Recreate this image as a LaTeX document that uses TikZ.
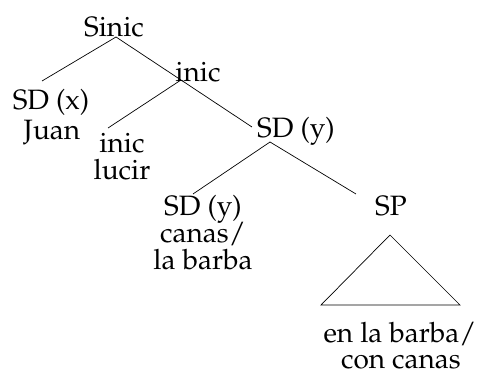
\documentclass[tikz,border=0pt]{standalone}
\usepackage[T1]{fontenc}
\usepackage{mathpazo}
\begin{document}
\begin{tikzpicture}[x=1pt,y=-1pt,
  lbl/.style={anchor=base,inner sep=0pt,font=\fontsize{28}{31}\selectfont},
  branch/.style={draw=black,line width=0.7pt}]
\useasboundingbox (0,0) rectangle (483,374);
% labels, placed by their baselines
\node[lbl] (Sinic) at (114,37) {Sinic};
\node[lbl] (inicM) at (198,82) {inic};
\node[lbl] (SDx) at (51,110) {SD (x)};
\node[lbl] (Juan) at (52,140) {Juan};
\node[lbl] (inicL) at (122,153) {inic};
\node[lbl] (lucir) at (122,180) {lucir};
\node[lbl] (SDy) at (296,138) {SD (y)};
\node[lbl] (SDyL) at (203,216) {SD (y)};
\node[lbl] (canas) at (203,243) {canas/};
\node[lbl] (barba) at (203,270) {la barba};
\node[lbl] (SP) at (391,216) {SP};
\node[lbl] (PPa) at (400,343) {en la barba/};
\node[lbl] (PPb) at (401,369) {con canas};
% branches
\draw[branch] ([shift={(2,0)}]Sinic.base) -- ([shift={(-9,-29)}]SDx.base);
\draw[branch] ([shift={(2,0)}]Sinic.base) -- ([shift={(-44,-11)}]SDy.base);
\draw[branch] ([shift={(-17,-2)}]inicM.base) -- ([shift={(-14,-25)}]inicL.base);
\draw[branch] ([shift={(-26,4)}]SDy.base) -- ([shift={(-10,-22)}]SDyL.base);
\draw[branch] ([shift={(-26,4)}]SDy.base) -- ([shift={(-35,-22)}]SP.base);
% triangle under SP
\draw[branch] ([shift={(-1,19)}]SP.base) -- ([shift={(-70,89)}]SP.base)
  -- ([shift={(69,89)}]SP.base) -- cycle;
\end{tikzpicture}
\end{document}
